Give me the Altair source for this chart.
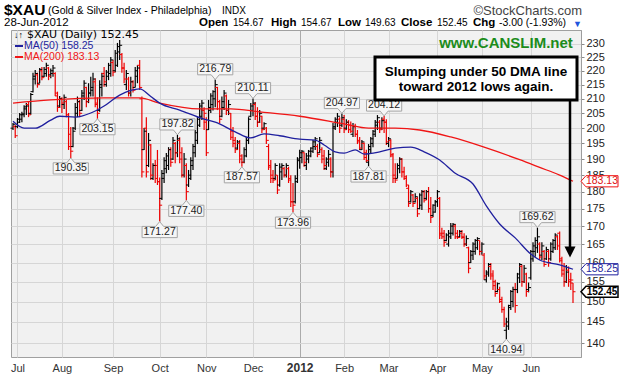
import altair as alt
import pandas as pd

# ---------------- data ----------------
opens = [200,200.5,200.5,202,203,204.5,206.5,208,205,212.5,217,218.5,215.5,220,218,219,221,218.5,219,219,
         211,207.5,210,208,209,204,198,194,200,205,209,206,211,214,209,212,213,216,208,206,
         214,219,215,218,219,223,220,222,227,226,221,215,217,212,216,214,218,222,210,193,
         200,188,194.5,184,188,188,183,178,184,187,188,193,190,195,192,196,192,185,188,182,
         184,188,192,196,201,204,206,202,199.5,206,208,210,214,209,204,207,211,206,205,199,
         196,193.5,195,191,189,191,196,204,206,208,204,202,204,200,200,194,188,185,184,185,
         182,186,187,185,187,184,177,177,183,190,190.5,192,188,190,191,192.5,194,194,192,193,
         191,187,189,190,186,200,202,203,201,203,200,202,201,198,200.5,198,196,193,195,192,
         189,193,195,198,201,202,200,203,202,195,196,191,185,184,187,190,186,184,181,177,
         179,177,178,175,176,180,178,180,175,173,174,177,178,168,168,166,165,167,168,170,
         168,167,168,167,165,164,160,162,163,164,166,163,162,155.5,157,159,157,155,152.5,153,
         150,148,143,144,149,150,153,153,156,159,155,157,153,156,161,163,164,165,162,163,
         161,163,161,163,164,167,168,161,158,155,158,155,154.67]
highs = [201.7,201.1,203.4,205.1,205.5,207.8,208.5,208.9,212,219.3,220.3,219.3,221,221.4,221.4,222.9,221.4,220.8,222.1,219.5,
         212.5,211,210.5,211.5,209.6,205.1,200.4,200.4,208.5,210.8,209.6,213.1,216.6,214.2,215.5,217.8,219.3,217.3,210.5,216.6,
         219.3,221.4,220.3,222.9,225.1,224,227.7,230.4,231.5,226.6,222.9,220.3,217.8,217.8,216.6,221.4,222,224,210.8,200.1,
         203.7,198.4,194.8,188.7,189.7,192.9,184.3,186.6,190.6,191.9,193.8,193.8,197.1,195.5,197.82,197,193.8,191.9,188.7,186.6,
         190.6,194.8,199.4,203.7,208.5,209.6,207.1,203.7,209.6,211.9,213,216.79,214.2,209.6,210.8,213.1,211.5,209.6,205.1,200.4,
         197.1,196.1,196.1,191.5,193.8,197.1,203.7,208.5,210.11,208.9,207.1,206.1,204.2,202,200.4,194.8,189.7,186.6,188.7,185,
         188.7,188.7,187.6,188.7,187.6,185,182.6,185,190.6,193,192.9,192.2,191.9,192.9,193.8,196.1,197.1,194.8,197.1,193.8,
         192.9,190.6,192.9,190.6,201.7,203.7,205.1,203.7,204.97,204.4,203,202.7,202.2,201.7,201.5,199.4,197.1,196.1,195.3,193,
         194.8,197.1,199.4,202.7,204.4,202.7,203.7,204.12,203,197.1,196.4,191.9,188.7,188.7,190.6,190.3,187.6,185,182,180.5,
         179.3,179.5,178.4,179.5,180.5,180.5,180.5,181.4,178.4,176.3,177.5,180.5,178.4,169.5,168.9,168,168.9,170.9,170.9,170.6,
         168.9,168.9,168.9,168,167.4,164.3,163.4,165.5,166.4,166.9,166,165.5,162.6,158,159.9,159.9,158,155.5,154.8,153.7,
         151.2,148.7,146,149.2,152.9,153.7,154.7,157.3,159.9,159.4,159.4,157.3,154.8,163.4,165.5,166.9,169.62,165.5,165.5,163.4,
         164.3,163.4,165.5,166.4,168,167.4,168.5,161.6,159.9,159.4,159,157.3,154.67]
lows = [199.4,196.8,200.0,201.7,202.0,203.7,204.4,203.7,204.5,212.2,215,213.9,215.5,216.6,217.7,217.8,216.6,217.3,217.8,211,
        205.5,206.8,205.1,206.5,203.7,192.9,190.35,193.8,199.4,203.7,203.7,205.8,209.6,207.1,208.5,210.8,210.8,207.1,203.15,205.5,
        210.8,214.2,214.2,216.6,217.8,218,219.5,221.4,224,219.3,215.5,213.1,210.8,210.8,212.2,214.0,215.5,213.1,184.3,192.9,
        184.3,187.5,183.5,183.5,182.6,182,171.27,177.5,182.6,185.6,186.6,187.6,189.7,188.7,190.6,188.7,184.3,184.3,177.4,181.4,
        183.5,186.6,190.6,194.8,200.4,202.7,199.4,191,199.4,205.1,206,207.1,206.1,201.7,203.7,206.1,204.4,204.4,196.1,193.8,
        191.9,192.9,188.7,187.57,188.7,190.6,194.8,203.7,204,202.7,200.4,201.7,198.4,199.4,194.8,186.6,182.6,182.6,183.5,179.3,
        181.5,183.5,184.3,184.3,182.6,175.5,173.96,176.5,182.6,187,188.7,187.6,186.6,188.7,190.6,191.9,192.9,190.6,191.9,188.7,
        186.6,186.6,187.6,184.3,184.3,199.4,200.4,198.4,200.4,198.4,199.4,198.4,198.4,197.1,197.1,194.8,192.9,192.9,189.7,189,
        187.81,191.9,193.8,197.1,199.4,198.4,199.4,198.4,194.5,193.8,190.6,182.6,182.6,184.0,185.6,184.3,183.5,181.4,175.5,176.8,
        175.5,176.8,172.6,174.8,174.6,176.8,177.5,173.8,170.9,172.6,173.8,175.5,166.4,166.4,164.3,165.8,164.3,166.4,167.4,166.4,
        166.4,166.8,166.4,164.3,164.5,157.2,159.9,160.7,162.1,163.4,162,162.1,155.5,154.8,156.3,155.5,152.9,151.2,152.3,149.6,
        147.2,143.8,140.94,143.1,147.9,148.6,147.2,152.1,154.7,153.7,154.7,151.2,152.3,155.5,160.2,161.6,162.6,160.7,160.7,158.9,
        160.7,158.9,160.5,162.6,163.4,163.4,160,156.3,153.7,154.7,153.7,152.9,149.63]
closes = [201.3,197.5,203.0,204.5,204.8,207.2,207.5,204.5,211.5,218,219,215,220.5,217.5,220.5,222,218,220,221,212,
          207,210,208.5,210.5,204.5,194,192.5,199,207,209,205,212,215.5,209,212,214,217,208.5,205,215,
          218,216,219.5,222,224,219.5,226.5,229,229.5,221,217,219,212,216,213,220,221,214,186,199,
          186,196,185,188,184,183,176,185.5,189.5,191,193,189,196,192,196.5,190,185,190,180,185,
          189.5,194,198.5,203,207.5,208.5,205,192,207,211,212.5,215,209,203,209,212,206,208,197,195,
          193,195.5,190,189,193,196,203,207.5,208.5,204,202,205,199.5,201.5,196,187.5,184,183.5,188,180.5,
          187.5,188,185,188,183.5,177,176,184,189.5,192,192.5,189,191,192.5,193.5,195.5,196.5,191.5,196,190,
          188,190,191.5,186,200.5,203,204,200,203.5,199.5,202,199.5,199,200.5,198,195.5,193.5,195.5,190.5,189.5,
          194,196.5,199,202,203.5,199.5,202.5,202,195.5,196.5,191.5,184,183.5,188,190,186,184.5,182,176.5,180,
          176.5,178.5,173.5,179,180,177.5,180,175,172.5,176,177,180,167.5,167,165.5,167.5,168,170,170.5,167,
          166.8,168.5,166.8,165,166.5,158.5,163,165,166,166.5,163,165,156.5,157.5,159.5,156.5,154,152,154.5,150.5,
          148,144.5,145,148.5,152.5,153,149,157,159.5,155,158.5,152.5,153.5,163,164.5,166,167,161.5,164.5,159.5,
          163.5,160,165,166,167.5,164.5,160.5,157,155,157.5,155.5,155.45,152.45]

ma50_idx = [0,5,10,17,21,28,35,41,48,57,62,66,75,86,91,100,107,113,120,129,136,140,145,149,154,158,165,172,179,185,192,199,207,213,219,226,233,237,246,252]
ma50_val = [202.3,200.0,200.0,202.7,204.0,203.7,205.1,207.5,211.3,213.5,210.8,208.5,206.1,203.0,202.0,198.8,196.8,198.1,197.5,196.4,196.1,194.5,192.3,191.9,192.9,191.6,192.3,193.5,193.8,192.3,189.7,185.6,182.3,175.8,170.6,166.7,162.3,160.7,159.4,158.25]
ma200_idx = [0,17,41,57,66,84,98,111,129,149,160,172,183,197,212,228,237,246,252]
ma200_val = [208.5,209.6,210.3,210.3,208.5,206.5,206.5,205.5,204.0,201.4,200.0,200.0,199.4,197.1,193.8,189.8,187.4,185.0,183.13]

month_idx = [2, 22, 45, 66, 87, 108, 129, 149, 169, 191, 211, 233]
month_lbl = ["Jul", "Aug", "Sep", "Oct", "Nov", "Dec", "2012", "Feb", "Mar", "Apr", "May", "Jun"]
y_ticks = [140, 145, 150, 155, 160, 165, 170, 175, 180, 185, 190, 195, 200, 205, 210, 215, 220, 225, 230]

hi_idx = [74, 91, 108, 148, 167, 236]
hi_val = [197.82, 216.79, 210.11, 204.97, 204.12, 169.62]
lo_idx = [26, 38, 66, 78, 103, 126, 160, 222]
lo_val = [190.35, 203.15, 171.27, 177.40, 187.57, 173.96, 187.81, 140.94]

last_ma200 = 183.13
last_ma50 = 158.25
last_close = 152.45

# ---------------- layout ----------------
W, H = 570, 327
PAD = {"left": 11, "top": 30, "right": 41, "bottom": 21}
FONT = "Liberation Sans"

df = pd.DataFrame({"idx": list(range(len(closes))), "o": opens, "h": highs, "l": lows, "c": closes})
prev = [None] + closes[:-1]
df["dir"] = ["down" if (p is not None and c < p) else "up" for c, p in zip(closes, prev)]

xs = alt.Scale(domain=[-0.9, 255.6], nice=False, zero=False)
ys = alt.Scale(type="log", domain=[136.8, 235.4], nice=False, zero=False)

expr = " : ".join(f"datum.value == {i} ? '{l}'" for i, l in zip(month_idx, month_lbl)) + " : ''"
xaxis = alt.Axis(values=month_idx, labelExpr=expr, title=None, grid=True,
                 gridColor={"condition": {"test": "datum.value == 129", "value": "#ABABAB"}, "value": "#D6D6D6"},
                 ticks=False, domain=False, labelFont=FONT, labelColor="#333333",
                 labelFontSize={"condition": {"test": "datum.value == 129", "value": 12}, "value": 11},
                 labelFontWeight={"condition": {"test": "datum.value == 129", "value": "bold"}, "value": "normal"},
                 labelPadding=5)
yaxis = alt.Axis(orient="right", values=y_ticks, format="d", title=None, grid=True, gridColor="#D6D6D6",
                 tickSize=3, tickColor="#8A8A8A", domain=True, domainColor="#9A9A9A", domainDash=[1, 1],
                 labelFont=FONT, labelFontSize=11, labelColor="#222222", labelPadding=2)

X = alt.X("idx:Q", scale=xs, axis=xaxis)
col = alt.Color("dir:N", scale=alt.Scale(domain=["up", "down"], range=["#000000", "#EE0000"]), legend=None)

hl = alt.Chart(df).mark_rule(strokeWidth=1.2).encode(x=X, y=alt.Y("l:Q", scale=ys, axis=yaxis), y2="h:Q", color=col)
ot = alt.Chart(df).mark_rule(strokeWidth=1, xOffset=-2.5, x2Offset=0).encode(
    x=X, x2="idx:Q", y=alt.Y("o:Q", scale=ys, axis=yaxis), color=col)
ct = alt.Chart(df).mark_rule(strokeWidth=1, xOffset=0, x2Offset=2.5).encode(
    x=X, x2="idx:Q", y=alt.Y("c:Q", scale=ys, axis=yaxis), color=col)

ma50 = alt.Chart(pd.DataFrame({"idx": ma50_idx, "v": ma50_val})).mark_line(
    color="#1F1F9E", strokeWidth=1.3, interpolate="monotone").encode(x=X, y=alt.Y("v:Q", scale=ys, axis=yaxis))
ma200 = alt.Chart(pd.DataFrame({"idx": ma200_idx, "v": ma200_val})).mark_line(
    color="#F01515", strokeWidth=1.3, interpolate="monotone").encode(x=X, y=alt.Y("v:Q", scale=ys, axis=yaxis))

# peak / trough call-out boxes
HI_PATH = "M-1.1,-0.3L-0.25,-0.3L0,0L0.25,-0.3L1.1,-0.3L1.1,-1.0L-1.1,-1.0Z"
LO_PATH = "M-1.1,0.3L-0.25,0.3L0,0L0.25,0.3L1.1,0.3L1.1,1.0L-1.1,1.0Z"
hdf = pd.DataFrame({"idx": hi_idx, "v": hi_val})
ldf = pd.DataFrame({"idx": lo_idx, "v": lo_val})
Yv = alt.Y("v:Q", scale=ys, axis=yaxis)
hbox = alt.Chart(hdf).mark_point(shape=HI_PATH, size=1024, filled=True, fill="#F6F6F6", stroke="#A5A5A5",
                                 strokeWidth=1, opacity=1).encode(x=X, y=Yv)
lbox = alt.Chart(ldf).mark_point(shape=LO_PATH, size=1024, filled=True, fill="#F6F6F6", stroke="#A5A5A5",
                                 strokeWidth=1, opacity=1).encode(x=X, y=Yv)
htxt = alt.Chart(hdf).mark_text(font=FONT, fontSize=10.5, color="#222222", dy=-10.5, baseline="middle").encode(
    x=X, y=Yv, text=alt.Text("v:Q", format=".2f"))
ltxt = alt.Chart(ldf).mark_text(font=FONT, fontSize=10.5, color="#222222", dy=10.5, baseline="middle").encode(
    x=X, y=Yv, text=alt.Text("v:Q", format=".2f"))

# right-edge price tags
TAG = "M0,0L0.25,-0.28L1.85,-0.28L1.85,0.28L0.25,0.28Z"
def tag(val, stroke, tcolor, bold, sw):
    d = pd.DataFrame({"v": [val]})
    box = alt.Chart(d).mark_point(shape=TAG, size=1600, filled=True, fill="#FFFFFF", stroke=stroke,
                                  strokeWidth=sw, opacity=1).encode(x=alt.value(W), y=Yv)
    txt = alt.Chart(d).mark_text(font=FONT, fontSize=10 if bold else 10.5, fontWeight="bold" if bold else "normal",
                                 color=tcolor, baseline="middle", align="center").encode(
        x=alt.value(W + 21), y=Yv, text=alt.Text("v:Q", format=".2f"))
    return [box, txt]

dummy = pd.DataFrame({"a": [0]})
def txt(s, x, y, size=12, weight="normal", color="#000000", align="left", font=FONT):
    return alt.Chart(dummy).mark_text(text=s, font=font, fontSize=size, fontWeight=weight, color=color,
                                      align=align, baseline="middle").encode(x=alt.value(x), y=alt.value(y))

# header (coordinates relative to plot origin at (11, 30))
header = [
    txt("$XAU", -7, -20, 15.5, "bold"),
    txt("(Gold & Silver Index - Philadelphia)", 37, -19, 10.5),
    txt("INDX", 211, -19, 10),
    txt("©StockCharts.com", 571, -19, 13, color="#444444", align="right"),
    txt("28-Jun-2012", -7, -7, 11.5),
    txt("Open", 188, -7, 11.5, "bold"), txt("154.67", 222, -7, 10),
    txt("High", 260, -7, 11.5, "bold"), txt("154.67", 290, -7, 10),
    txt("Low", 327, -7, 11.5, "bold"), txt("149.63", 354, -7, 10),
    txt("Close", 390, -7, 11.5, "bold"), txt("152.45", 426, -7, 10),
    txt("Chg", 462, -7, 11.5, "bold"), txt("-3.00 (-1.93%)", 488, -7, 10.5),
    txt("▼", 562, -6, 9, color="#2255DD"),
]

# in-plot legend
legend = [
    txt("↓↑", 3, 5, 9, "bold"),
    txt("$XAU (Daily) 152.45", 16, 5, 11, font="DejaVu Sans"),
    alt.Chart(dummy).mark_rule(color="#1F1F9E", strokeWidth=2).encode(x=alt.value(4), x2=alt.value(12), y=alt.value(16)),
    txt("MA(50) 158.25", 13, 16, 10.5, color="#1F1F9E"),
    alt.Chart(dummy).mark_rule(color="#F01515", strokeWidth=2).encode(x=alt.value(4), x2=alt.value(12), y=alt.value(27)),
    txt("MA(200) 183.13", 13, 27, 10.5, color="#F01515"),
]

site = txt("www.CANSLIM.net", 495, 13, 15, "bold", color="#1C8C1C", align="center")

note_box = alt.Chart(dummy).mark_rect(fill="#FFFFFF", stroke="#000000", strokeWidth=3).encode(
    x=alt.value(364), x2=alt.value(566), y=alt.value(27), y2=alt.value(70))
note1 = txt("Slumping under 50 DMA line", 465, 42, 13.5, "bold", align="center")
note2 = txt("toward 2012 lows again.", 465, 57, 13.5, "bold", align="center")
arrow = alt.Chart(dummy).mark_rule(color="#000000", strokeWidth=2.5).encode(
    x=alt.value(559), y=alt.value(70), y2=alt.value(218))
head = alt.Chart(dummy).mark_point(shape="M-1,-1L1,-1L0,1Z", size=121, filled=True, color="#000000", opacity=1).encode(
    x=alt.value(559), y=alt.value(222))

layers = ([hl, ot, ct, ma200, ma50, hbox, lbox, htxt, ltxt]
          + tag(last_ma200, "#F01515", "#E01010", False, 1)
          + tag(last_ma50, "#1F1F9E", "#1F1F9E", False, 1)
          + tag(last_close, "#000000", "#000000", True, 1.5)
          + header + legend + [site, note_box, note1, note2, arrow, head])

chart = alt.layer(*layers).properties(
    width=W, height=H, padding=PAD, autosize=alt.AutoSizeParams(type="none"), background="#FFFFFF"
).configure_view(fill="#F1F1F1", stroke="#A0A0A0", strokeWidth=1)

assert len(opens) == len(highs) == len(lows) == len(closes) == 253

chart.save("out.html", embed_options={"renderer": "svg", "actions": False})
